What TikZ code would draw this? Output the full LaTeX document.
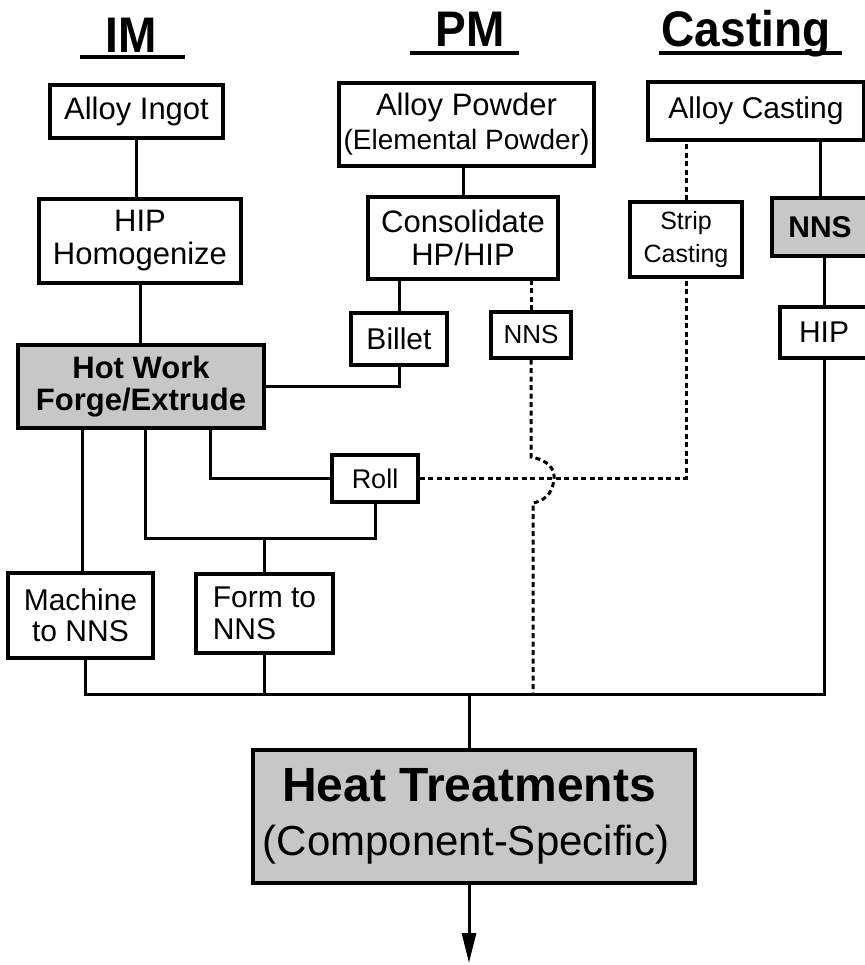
\documentclass[tikz,border=0pt]{standalone}
\usepackage{fontspec}
\setmainfont{Liberation Sans}
\newfontfamily\hdrfont[FakeStretch=0.92]{Liberation Sans}
\usetikzlibrary{arrows.meta}
\newcommand\fs[2]{\fontsize{#1}{#2}\selectfont}
\begin{document}
\begin{tikzpicture}[x=1pt,y=-1pt,
  box/.style={draw, line width=3.2pt, inner sep=0pt, align=center, font=\fs{31}{33}},
  shaded/.style={fill=black!22},
  conn/.style={line width=3pt},
  dconn/.style={line width=3pt, dash pattern=on 5pt off 3.5pt},
  hdr/.style={anchor=base, inner sep=0pt, font=\hdrfont\fs{50}{52}\bfseries},
  uline/.style={line width=3.2pt}]
\useasboundingbox (0,0) rectangle (864,965);

% headers
\node[hdr] (im) at (131,53) {IM};
\node[hdr] (pm) at (470,47) {PM};
\node[hdr] (cast) at (746,47) {Casting};
\draw[uline] (80,57) -- (185,57);
\draw[uline] (410,53) -- (519,53);
\draw[uline] (659,53) -- (842,53);

% boxes
\node[box, minimum width=173pt, minimum height=53pt] (ingot) at (136.5,111.5) {Alloy Ingot};
\node[box, minimum width=202pt, minimum height=84pt] (hiph) at (140,241) {HIP\\Homogenize};
\node[box, minimum width=255pt, minimum height=83pt] (powder) at (466.5,124.5) {Alloy Powder\\[1pt]{\fs{28}{30}(Elemental Powder)}};
\node[box, minimum width=190pt, minimum height=82pt] (consol) at (463,238) {Consolidate\\HP/HIP};
\node[box, minimum width=216pt, minimum height=58pt, font=\fs{30}{32}] (acast) at (756,111) {Alloy Casting};
\node[box, minimum width=112pt, minimum height=75pt, font=\fs{25}{33}] (strip) at (686,239.5) {Strip\\Casting};
\node[box, shaded, minimum width=96pt, minimum height=58pt, font=\fs{30}{32}\bfseries] (nnsc) at (820,227) {NNS};
\node[box, minimum width=96pt, minimum height=52pt, font=\fs{30}{32}] (billet) at (399,339) {Billet};
\node[box, minimum width=80pt, minimum height=46pt, font=\fs{26}{28}] (nnsp) at (531,335) {NNS};
\node[box, minimum width=88pt, minimum height=51pt, font=\fs{30}{32}] (hipc) at (824,332.5) {HIP};
\node[box, shaded, minimum width=246pt, minimum height=83pt, font=\fs{31}{32}\bfseries] (hot) at (141,386.5) {Hot Work\\Forge/Extrude};
\node[box, minimum width=86pt, minimum height=47pt, font=\fs{27}{29}] (roll) at (375,478.5) {Roll};
\node[box, minimum width=145pt, minimum height=85pt, font=\fs{30}{31}] (machine) at (80.5,615.5) {Machine\\to NNS};
\node[box, minimum width=137pt, minimum height=79pt, font=\fs{30}{32}, align=left] (form) at (264.5,613.5) {Form to\\NNS};
\node[box, shaded, minimum width=442pt, minimum height=133pt, font=\fs{42}{54}] (heat) at (474,816.5) {{\fs{48}{54}\bfseries Heat Treatments}\hspace*{10pt}\\(Component-Specific)\hspace*{16pt}};

% connectors
\draw[conn] (ingot.south) -- (ingot.south |- hiph.north);
\draw[conn] (hiph.south) -- (hiph.south |- hot.north);
\draw[conn] (consol.north) -- (consol.north |- powder.south);
\draw[conn] (billet.north) -- (billet.north |- consol.south);
\draw[conn] (billet.south) |- (hot.east);
\draw[dconn] (nnsp.north) -- (nnsp.north |- consol.south);
\draw[dconn] (strip.north) -- (strip.north |- acast.south);
\draw[conn] (nnsc.north) -- (nnsc.north |- acast.south);
\draw[conn] (hipc.north) -- (hipc.north |- nnsc.south);
\draw[conn] ([xshift=1.5pt]machine.north) -- ([xshift=1.5pt]machine.north |- hot.south);
\coordinate (j1) at (145,538);
\coordinate (j2) at (210,0);
\draw[conn] (hot.south -| j1) -- (j1) -| (roll.south);
\draw[conn] (form.north) -- (form.north |- j1);
\draw[conn] (hot.south -| j2) |- (roll.west);
\draw[dconn] (roll.east) -| (strip.south);
\coordinate (bl) at (85,694);
\coordinate (dj) at (533,694);
\draw[conn] ([xshift=4.5pt]machine.south) -- (bl) -- (hipc.south |- bl) -- (hipc.south);
\draw[conn] (form.south) -- (form.south |- bl);
\draw[dconn] (nnsp.south) -- (531,457) .. controls (548,460) and (555,469) .. (554,478.5) .. controls (553,490) and (548,500) .. (533,503) -- (dj);
\coordinate (hx) at (469,963);
\draw[conn] (heat.north -| hx) -- (hx |- bl);
\draw[conn, -{Triangle[length=30pt,width=14pt]}] (heat.south -| hx) -- (hx);
\end{tikzpicture}
\end{document}
